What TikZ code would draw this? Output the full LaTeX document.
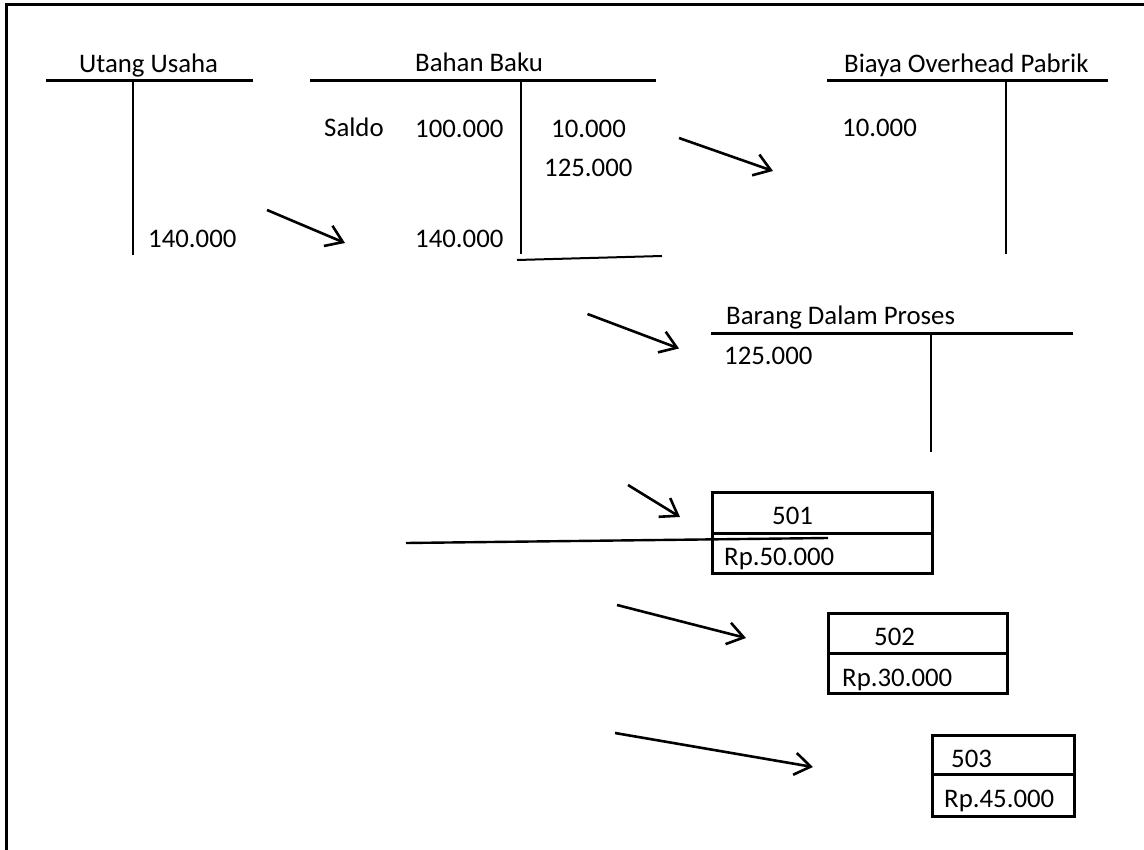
\documentclass[tikz,border=0pt]{standalone}
\usepackage{fontspec}
\setmainfont{Carlito}
\usetikzlibrary{arrows.meta}
\begin{document}
\begin{tikzpicture}[x=1pt,y=-1pt,
  lbl/.style={anchor=base west, inner sep=0pt, font=\fontsize{26.8}{32}\selectfont},
  tline/.style={line width=2.6pt},
  flow/.style={line width=2.6pt, -{Straight Barb[length=16pt,width=22pt]}},
  boxpart/.style={draw, line width=3pt, anchor=north west, inner sep=0pt}]
\useasboundingbox (0,0) rectangle (1144,850);
\fill[white] (0,0) rectangle (1144,850);

% page frame (top and left edges)
\draw[line width=3pt] (6,850) -- (6,4.7) -- (1144,4.7);

% T account: Utang Usaha
\node[lbl] (uuT) at (79,72.5) {Utang Usaha};
\coordinate (uuL) at (46,80.5);
\coordinate (uuR) at (253,80.5);
\coordinate (uuTop) at (133,80.5);
\coordinate (uuBot) at (133,255);
\draw[tline] (uuL) -- (uuR);
\draw[tline] (uuTop) -- (uuBot);
\node[lbl] (uuK) at (148,248) {140.000};

% T account: Bahan Baku
\node[lbl] (bbT) at (415,72) {Bahan Baku};
\coordinate (bbL) at (310,80.5);
\coordinate (bbR) at (656,80.5);
\coordinate (bbTop) at (521,80.5);
\coordinate (bbBot) at (521,254);
\draw[tline] (bbL) -- (bbR);
\draw[tline] (bbTop) -- (bbBot);
\coordinate (bbU1) at (517,260);
\coordinate (bbU2) at (662,256);
\draw[line width=2pt] (bbU1) -- (bbU2);
\node[lbl] (bbS) at (324,137) {Saldo};
\node[lbl] (bbD1) at (415,138) {100.000};
\node[lbl] (bbK1) at (551,138) {10.000};
\node[lbl] (bbK2) at (544,177) {125.000};
\node[lbl] (bbD2) at (415,248) {140.000};

% T account: Biaya Overhead Pabrik
\node[lbl] (bopT) at (844,73) {Biaya Overhead Pabrik};
\coordinate (bopL) at (827,80.5);
\coordinate (bopR) at (1108,80.5);
\coordinate (bopTop) at (1006,80.5);
\coordinate (bopBot) at (1006,254);
\draw[tline] (bopL) -- (bopR);
\draw[tline] (bopTop) -- (bopBot);
\node[lbl] (bopD) at (842,137) {10.000};

% T account: Barang Dalam Proses
\node[lbl] (bdpT) at (726,325) {Barang Dalam Proses};
\coordinate (bdpL) at (711,333.5);
\coordinate (bdpR) at (1073,333.5);
\coordinate (bdpTop) at (931,333.5);
\coordinate (bdpBot) at (931,452);
\draw[tline] (bdpL) -- (bdpR);
\draw[tline] (bdpTop) -- (bdpBot);
\node[lbl] (bdpD) at (724,365) {125.000};

% job order cards
\node[boxpart, minimum width=220pt, minimum height=41pt] (j501h) at (711,491) {};
\node[boxpart, minimum width=220pt, minimum height=40pt] (j501v) at (711,532) {};
\node[lbl] at (772,524) {501};
\node[lbl] at (724,565) {Rp.50.000};

\node[boxpart, minimum width=179pt, minimum height=40pt] (j502h) at (827,612) {};
\node[boxpart, minimum width=179pt, minimum height=40pt] (j502v) at (827,652) {};
\node[lbl] at (874,645) {502};
\node[lbl] at (842,686) {Rp.30.000};

\node[boxpart, minimum width=142pt, minimum height=39pt] (j503h) at (931,734) {};
\node[boxpart, minimum width=142pt, minimum height=42pt] (j503v) at (931,773) {};
\node[lbl] at (951,767) {503};
\node[lbl] at (944,807) {Rp.45.000};

% long stroke across card 501
\coordinate (lnA) at (406,543);
\coordinate (lnB) at (828,538);
\draw[line width=2.4pt] (lnA) -- (lnB);

% flow arrows
\coordinate (a1s) at (267,210);  \coordinate (a1e) at (345,243);
\coordinate (a2s) at (679,138);  \coordinate (a2e) at (773,171);
\coordinate (a3s) at (587.5,314);\coordinate (a3e) at (679,348.5);
\coordinate (a4s) at (628,485);  \coordinate (a4e) at (680,517);
\coordinate (a5s) at (617,605);  \coordinate (a5e) at (746,638);
\coordinate (a6s) at (615,733);  \coordinate (a6e) at (813,767);
\draw[flow] (a1s) -- (a1e);
\draw[flow] (a2s) -- (a2e);
\draw[flow] (a3s) -- (a3e);
\draw[flow] (a4s) -- (a4e);
\draw[flow] (a5s) -- (a5e);
\draw[flow] (a6s) -- (a6e);
\end{tikzpicture}
\end{document}
